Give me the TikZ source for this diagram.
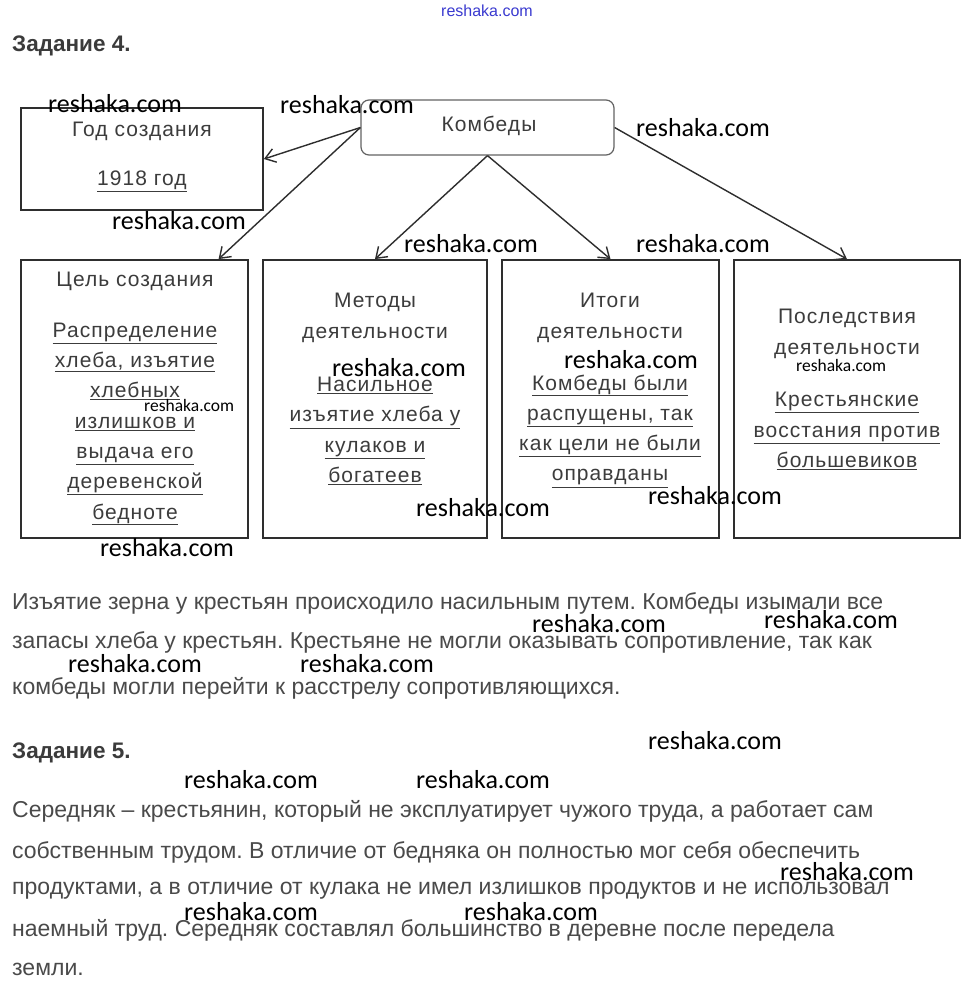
\documentclass[tikz,border=0pt]{standalone}
\usepackage{fontspec}
\setmainfont{Liberation Sans}
\newfontfamily\boxfont[LetterSpace=5]{Liberation Sans}
\newfontfamily\wmfont{Carlito}
\usetikzlibrary{arrows.meta}
\frenchspacing

\definecolor{bodygray}{HTML}{4A4A4A}
\definecolor{boxgray}{HTML}{3C3C3C}
\definecolor{linegray}{HTML}{2E2E2E}
\definecolor{wmblue}{HTML}{3A3AD0}

\tikzset{
  bigbox/.style={draw=linegray, line width=1.8pt, inner sep=0pt},
  boxtxt/.style={text=boxgray, align=center, inner sep=0pt, font=\boxfont\fontsize{21}{30.3}\selectfont},
  arr/.style={draw=linegray, line width=1.4pt, -{Straight Barb[length=10pt,width=14pt]}},
  bodyline/.style={anchor=west, inner sep=0pt, text=bodygray, font=\fontsize{23}{27}\selectfont},
  heading/.style={anchor=west, inner sep=0pt, text=bodygray!80!black, font=\bfseries\fontsize{22.5}{26}\selectfont},
  wm/.style={anchor=west, inner sep=0pt, text=black, font=\wmfont\fontsize{26}{30}\selectfont},
  wmsmall/.style={anchor=west, inner sep=0pt, text=black, font=\wmfont\fontsize{17.5}{20}\selectfont}
}

\begin{document}
\begin{tikzpicture}[x=1pt,y=-1pt]
\useasboundingbox[fill=white] (0,0) rectangle (971,994);

\node[inner sep=0pt, text=wmblue, font=\fontsize{16}{18}\selectfont] (site) at (487,11) {reshaka.com};
\node[heading] (task4) at (12,46) {Задание 4.};

% boxes
\node[draw=boxgray!80, line width=1.2pt, rounded corners=8pt, minimum width=253pt, minimum height=55pt] (komb) at (487.5,127.5) {};
\node[boxtxt] (kombtxt) at (489,126) {Комбеды};
\node[bigbox, minimum width=242pt, minimum height=102pt] (god) at (142,159) {};
\node[bigbox, minimum width=227pt, minimum height=278pt] (cel) at (134.5,399) {};
\node[bigbox, minimum width=224pt, minimum height=278pt] (met) at (375,399) {};
\node[bigbox, minimum width=217pt, minimum height=278pt] (itog) at (610.5,399) {};
\node[bigbox, minimum width=226pt, minimum height=278pt] (posl) at (847,399) {};

% box texts
\node[boxtxt] (godhead) at (142,131) {Год создания};
\node[boxtxt] (godbody) at (142,181) {\underline{1918 год}};
\node[boxtxt] (celhead) at (135,281) {Цель создания};
\node[boxtxt] (celbody) at (135,424) {\underline{Распределение}\\\underline{хлеба, изъятие}\\\underline{хлебных}\\\underline{излишков и}\\\underline{выдача его}\\\underline{деревенской}\\\underline{бедноте}};
\node[boxtxt] (methead) at (375,318) {Методы\\деятельности};
\node[boxtxt] (metbody) at (375,431) {\underline{Насильное}\\\underline{изъятие хлеба у}\\\underline{кулаков и}\\\underline{богатеев}};
\node[boxtxt] (itoghead) at (610,318) {Итоги\\деятельности};
\node[boxtxt] (itogbody) at (610,431) {\underline{Комбеды были}\\\underline{распущены, так}\\\underline{как цели не были}\\\underline{оправданы}};
\node[boxtxt] (postlhead) at (847,334) {Последствия\\деятельности};
\node[boxtxt] (poslbody) at (847,431) {\underline{Крестьянские}\\\underline{восстания против}\\\underline{большевиков}};

% arrows
\draw[arr] (komb.west) -- (god.east);
\draw[arr] (komb.west) -- (cel.59);
\draw[arr] (komb.south) -- (met.north);
\draw[arr] (komb.south) -- (itog.north);
\draw[arr] (komb.east) -- (posl.north);

% text
\node[bodyline] (p1a) at (12,603) {Изъятие зерна у крестьян происходило насильным путем. Комбеды изымали все};
\node[bodyline] (p1b) at (12,642) {запасы хлеба у крестьян. Крестьяне не могли оказывать сопротивление, так как};
\node[bodyline] (p1c) at (12,688) {комбеды могли перейти к расстрелу сопротивляющихся.};
\node[heading] (task5) at (12,753) {Задание 5.};
\node[bodyline] (p2a) at (12,811) {Середняк – крестьянин, который не эксплуатирует чужого труда, а работает сам};
\node[bodyline] (p2b) at (12,852) {собственным трудом. В отличие от бедняка он полностью мог себя обеспечить};
\node[bodyline] (p2c) at (12,891) {продуктами, а в отличие от кулака не имел излишков продуктов и не использовал};
\node[bodyline] (p2d) at (12,930) {наемный труд. Середняк составлял большинство в деревне после передела};
\node[bodyline] (p2e) at (12,969) {земли.};

% watermarks
\node[wm] (w1) at (48,104) {reshaka.com};
\node[wm] (w2) at (280,105) {reshaka.com};
\node[wm] (w3) at (636,128) {reshaka.com};
\node[wm] (w4) at (112,221) {reshaka.com};
\node[wm] (w5) at (404,244) {reshaka.com};
\node[wm] (w6) at (636,244) {reshaka.com};
\node[wm] (w7) at (332,368) {reshaka.com};
\node[wm] (w8) at (564,360) {reshaka.com};
\node[wmsmall] (w9) at (144,405) {reshaka.com};
\node[wmsmall] (w10) at (796,365) {reshaka.com};
\node[wm] (w11) at (416,508) {reshaka.com};
\node[wm] (w12) at (648,496) {reshaka.com};
\node[wm] (w13) at (100,548) {reshaka.com};
\node[wm] (w14) at (532,624) {reshaka.com};
\node[wm] (w15) at (764,620) {reshaka.com};
\node[wm] (w16) at (68,664) {reshaka.com};
\node[wm] (w17) at (300,664) {reshaka.com};
\node[wm] (w18) at (648,741) {reshaka.com};
\node[wm] (w19) at (184,780) {reshaka.com};
\node[wm] (w20) at (416,780) {reshaka.com};
\node[wm] (w21) at (780,872) {reshaka.com};
\node[wm] (w22) at (184,912) {reshaka.com};
\node[wm] (w23) at (464,912) {reshaka.com};
\end{tikzpicture}
\end{document}
